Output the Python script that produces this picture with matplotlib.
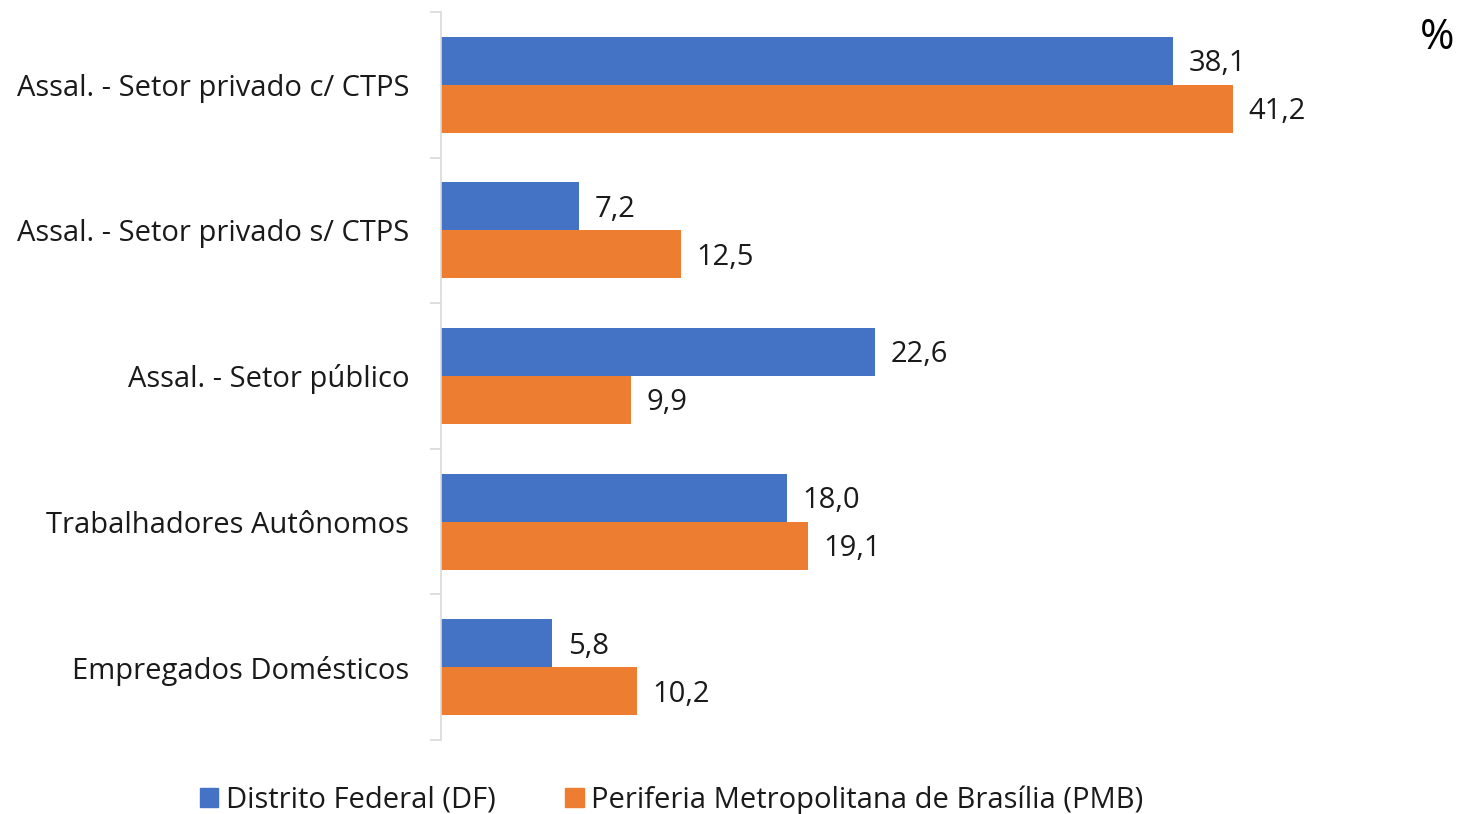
import numpy as np
import matplotlib.pyplot as plt
from matplotlib.patches import Patch

categorias = ['Assal. - Setor privado c/ CTPS', 'Assal. - Setor privado s/ CTPS',
              'Assal. - Setor público', 'Trabalhadores Autônomos', 'Empregados Domésticos']
df = [38.1, 7.2, 22.6, 18.0, 5.8]
pmb = [41.2, 12.5, 9.9, 19.1, 10.2]
series = ['Distrito Federal (DF)', 'Periferia Metropolitana de Brasília (PMB)']
cores = ['#4472C4', '#ED7D31']

plt.rcParams['font.family'] = ['Open Sans', 'DejaVu Sans']
plt.rcParams['font.size'] = 21

fig = plt.figure(figsize=(14.57, 8.14), dpi=100)
ax = fig.add_axes([441/1457, 74/814, 961/1457, 728/814])

y = np.arange(len(categorias))
h = 0.329
ax.barh(y - h/2, df, height=h, color=cores[0])
ax.barh(y + h/2, pmb, height=h, color=cores[1])

# rótulos de dados com vírgula decimal
for i in range(len(categorias)):
    ax.text(df[i] + 0.8, y[i] - h/2 + 0.02, f'{df[i]:.1f}'.replace('.', ','), va='center', ha='left', color='#1a1a1a')
    ax.text(pmb[i] + 0.8, y[i] + h/2 + 0.02, f'{pmb[i]:.1f}'.replace('.', ','), va='center', ha='left', color='#1a1a1a')

ax.set_xlim(0, 50)
ax.set_ylim(len(categorias) - 0.5, -0.5)
ax.set_yticks(y)
ax.set_yticklabels(categorias)
ax.set_yticks(np.arange(len(categorias) + 1) - 0.5, minor=True)
ax.tick_params(axis='y', which='major', length=0, pad=23, labelcolor='#1a1a1a')
ax.tick_params(axis='y', which='minor', length=8, color='#d9d9d9', width=1.2)
ax.set_xticks([])
for s in ['top', 'right', 'bottom']:
    ax.spines[s].set_visible(False)
ax.spines['left'].set_color('#d9d9d9')
ax.spines['left'].set_linewidth(1.2)

fig.text(1437/1457, 1 - 38/814, '%', ha='center', va='center', fontsize=30, color='black')

handles = [Patch(color=c) for c in cores]
fig.legend(handles, series, loc='center', bbox_to_anchor=(0.461, 1 - 800/814), ncol=2,
           frameon=False, fontsize=21, handlelength=0.62, handleheight=0.62,
           handletextpad=0.25, columnspacing=2.4, labelcolor='#1a1a1a')

plt.savefig('out.png', dpi=100)
